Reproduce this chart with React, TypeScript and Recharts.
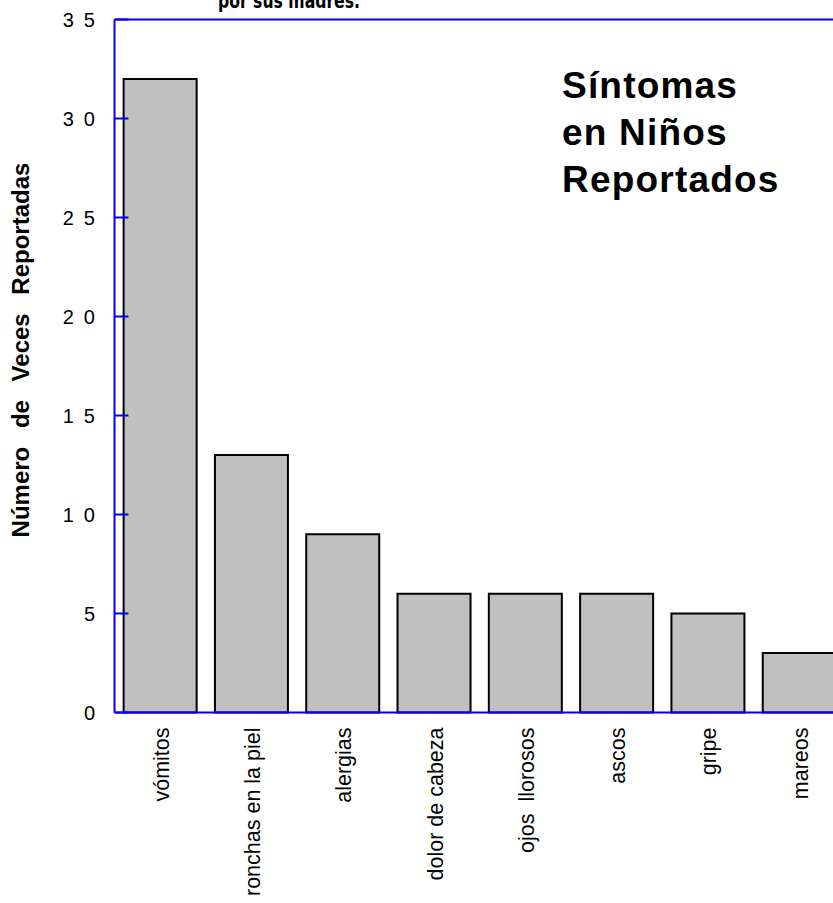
import { Bar, BarChart, ReferenceLine, XAxis, YAxis } from "recharts";

const SYMPTOMS = [
  "vómitos",
  "ronchas en la piel",
  "alergias",
  "dolor de cabeza",
  "ojos  llorosos",
  "ascos",
  "gripe",
  "mareos",
];
const COUNTS = [32, 13, 9, 6, 6, 6, 5, 3];
const Y_TICKS = [0, 5, 10, 15, 20, 25, 30, 35];
const TITLE_LINES = ["Síntomas", "en Niños", "Reportados"];

const AXIS_BLUE = "#0000ff";
const FONT = "Liberation Sans, Arial, Helvetica, sans-serif";

const data = SYMPTOMS.map((name, i) => ({ name, value: COUNTS[i] }));

function YTick({ x = 0, y = 0, payload }: any) {
  return (
    <g>
      <line x1={x} x2={x + 14} y1={y} y2={y} stroke={AXIS_BLUE} strokeWidth={2} />
      <text
        x={x - 9.5}
        y={y}
        dy="0.36em"
        textAnchor="end"
        fontFamily={FONT}
        fontSize={20}
        letterSpacing={10}
        fill="#000"
      >
        {payload.value}
      </text>
    </g>
  );
}

function XTick({ x = 0, y = 0, payload }: any) {
  return (
    <text
      transform={`translate(${x + 8.5},${y + 15}) rotate(-90)`}
      textAnchor="end"
      fontFamily={FONT}
      fontSize={21.5}
      fill="#000"
      style={{ whiteSpace: "pre" }}
    >
      {payload.value}
    </text>
  );
}

export default function App() {
  return (
    <div
      style={{
        position: "absolute",
        left: 0,
        top: 0,
        width: 833,
        height: 903,
        overflow: "hidden",
        background: "#fff",
      }}
    >
      <BarChart
        width={850}
        height={903}
        data={data}
        margin={{ top: 19.5, right: 5.1, bottom: 10.5, left: 0 }}
      >
        <XAxis
          dataKey="name"
          interval={0}
          height={180}
          tickSize={0}
          tickMargin={0}
          tickLine={false}
          axisLine={{ stroke: AXIS_BLUE, strokeWidth: 2 }}
          tick={<XTick />}
        />
        <YAxis
          width={114.5}
          domain={[0, 35]}
          ticks={Y_TICKS}
          interval={0}
          tickSize={0}
          tickMargin={0}
          tickLine={false}
          axisLine={{ stroke: AXIS_BLUE, strokeWidth: 2 }}
          tick={<YTick />}
        />
        <ReferenceLine y={35} stroke={AXIS_BLUE} strokeWidth={2} />
        <Bar
          dataKey="value"
          fill="#c0c0c0"
          stroke="#000"
          strokeWidth={2}
          isAnimationActive={false}
        />
        <text
          transform="translate(29,350) rotate(-90)"
          textAnchor="middle"
          fontFamily={FONT}
          fontWeight="bold"
          fontSize={24}
          wordSpacing={12}
          fill="#000"
        >
          Número de Veces Reportadas
        </text>
        <text
          x={218}
          y={8}
          fontFamily="Liberation Sans Narrow, DejaVu Sans Condensed, sans-serif"
          fontWeight="bold"
          fontSize={22}
          textLength={142}
          lengthAdjust="spacingAndGlyphs"
          fill="#000"
        >
          por sus madres.
        </text>
        {TITLE_LINES.map((line, i) => (
          <text
            key={line}
            x={562}
            y={98 + i * 47}
            fontFamily={FONT}
            fontWeight="bold"
            fontSize={37}
            letterSpacing={1.2}
            fill="#000"
          >
            {line}
          </text>
        ))}
      </BarChart>
    </div>
  );
}
